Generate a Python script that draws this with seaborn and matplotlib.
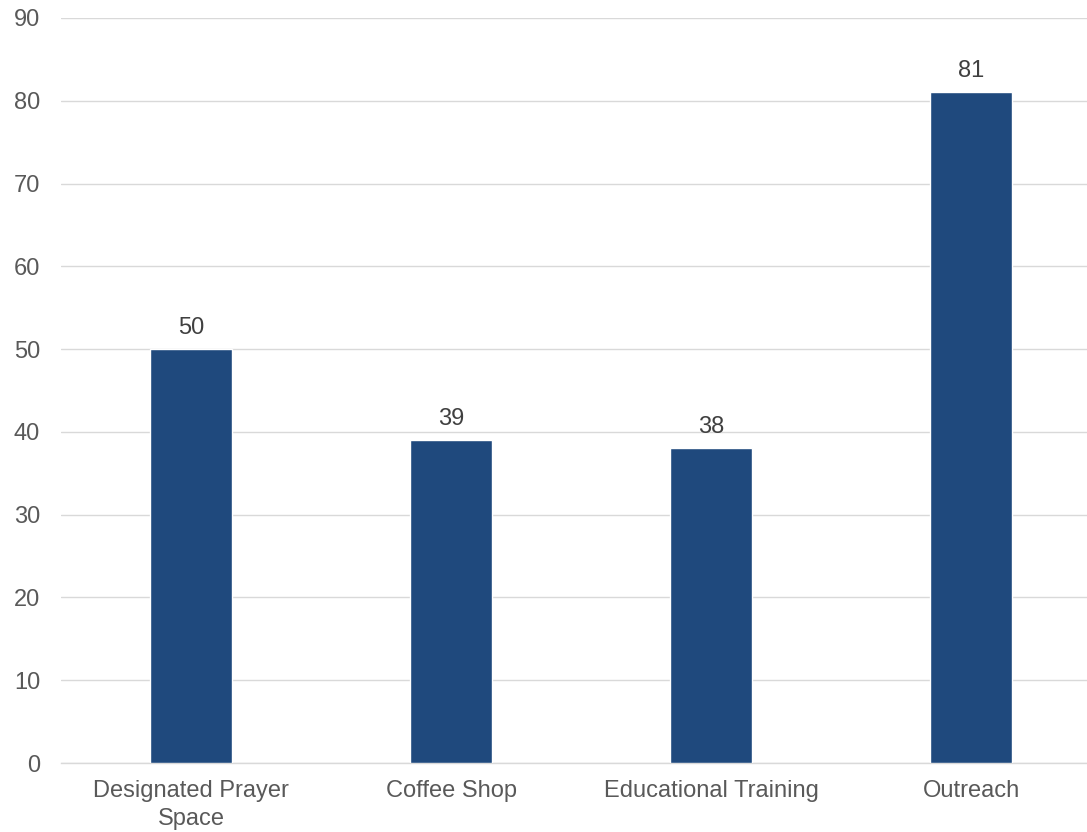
import matplotlib
matplotlib.use("Agg")
import matplotlib.pyplot as plt
import seaborn as sns
import pandas as pd

categories = ["Designated Prayer\nSpace", "Coffee Shop", "Educational Training", "Outreach"]
values = [50, 39, 38, 81]
yticks = [0, 10, 20, 30, 40, 50, 60, 70, 80, 90]

sns.set_theme(style="white")
plt.rcParams['font.family'] = ['Liberation Sans', 'DejaVu Sans']

df = pd.DataFrame({"category": categories, "value": values})

W, H = 1087, 832
fig = plt.figure(figsize=(W / 100, H / 100), dpi=100)
left, right = 61, 1101
top, bottom = 18, 763
ax = fig.add_axes([left / W, (H - bottom) / H, (right - left) / W, (bottom - top) / H])

sns.barplot(data=df, x="category", y="value", color="#1F497D", width=0.315,
            saturation=1, ax=ax, zorder=3)

ax.set_ylim(0, 90)
ax.set_xlim(-0.5, 3.5)
ax.set_yticks(yticks)
ax.yaxis.grid(True, color="#D9D9D9", linewidth=1.0, zorder=0)
ax.set_axisbelow(True)
for s in ["top", "right", "left"]:
    ax.spines[s].set_visible(False)
ax.spines["bottom"].set_color("#D9D9D9")
ax.spines["bottom"].set_linewidth(1.0)
ax.set_xlabel("")
ax.set_ylabel("")
ax.tick_params(axis="y", length=0, pad=15, labelsize=17, labelcolor="#595959")
ax.tick_params(axis="x", length=0, pad=12, labelsize=17, labelcolor="#595959")
for lab in ax.get_xticklabels():
    lab.set_linespacing(1.35)

for c in ax.containers:
    ax.bar_label(c, labels=[str(v) for v in values], padding=7.5, fontsize=17, color="#404040")

fig.savefig("out.png", dpi=100)
